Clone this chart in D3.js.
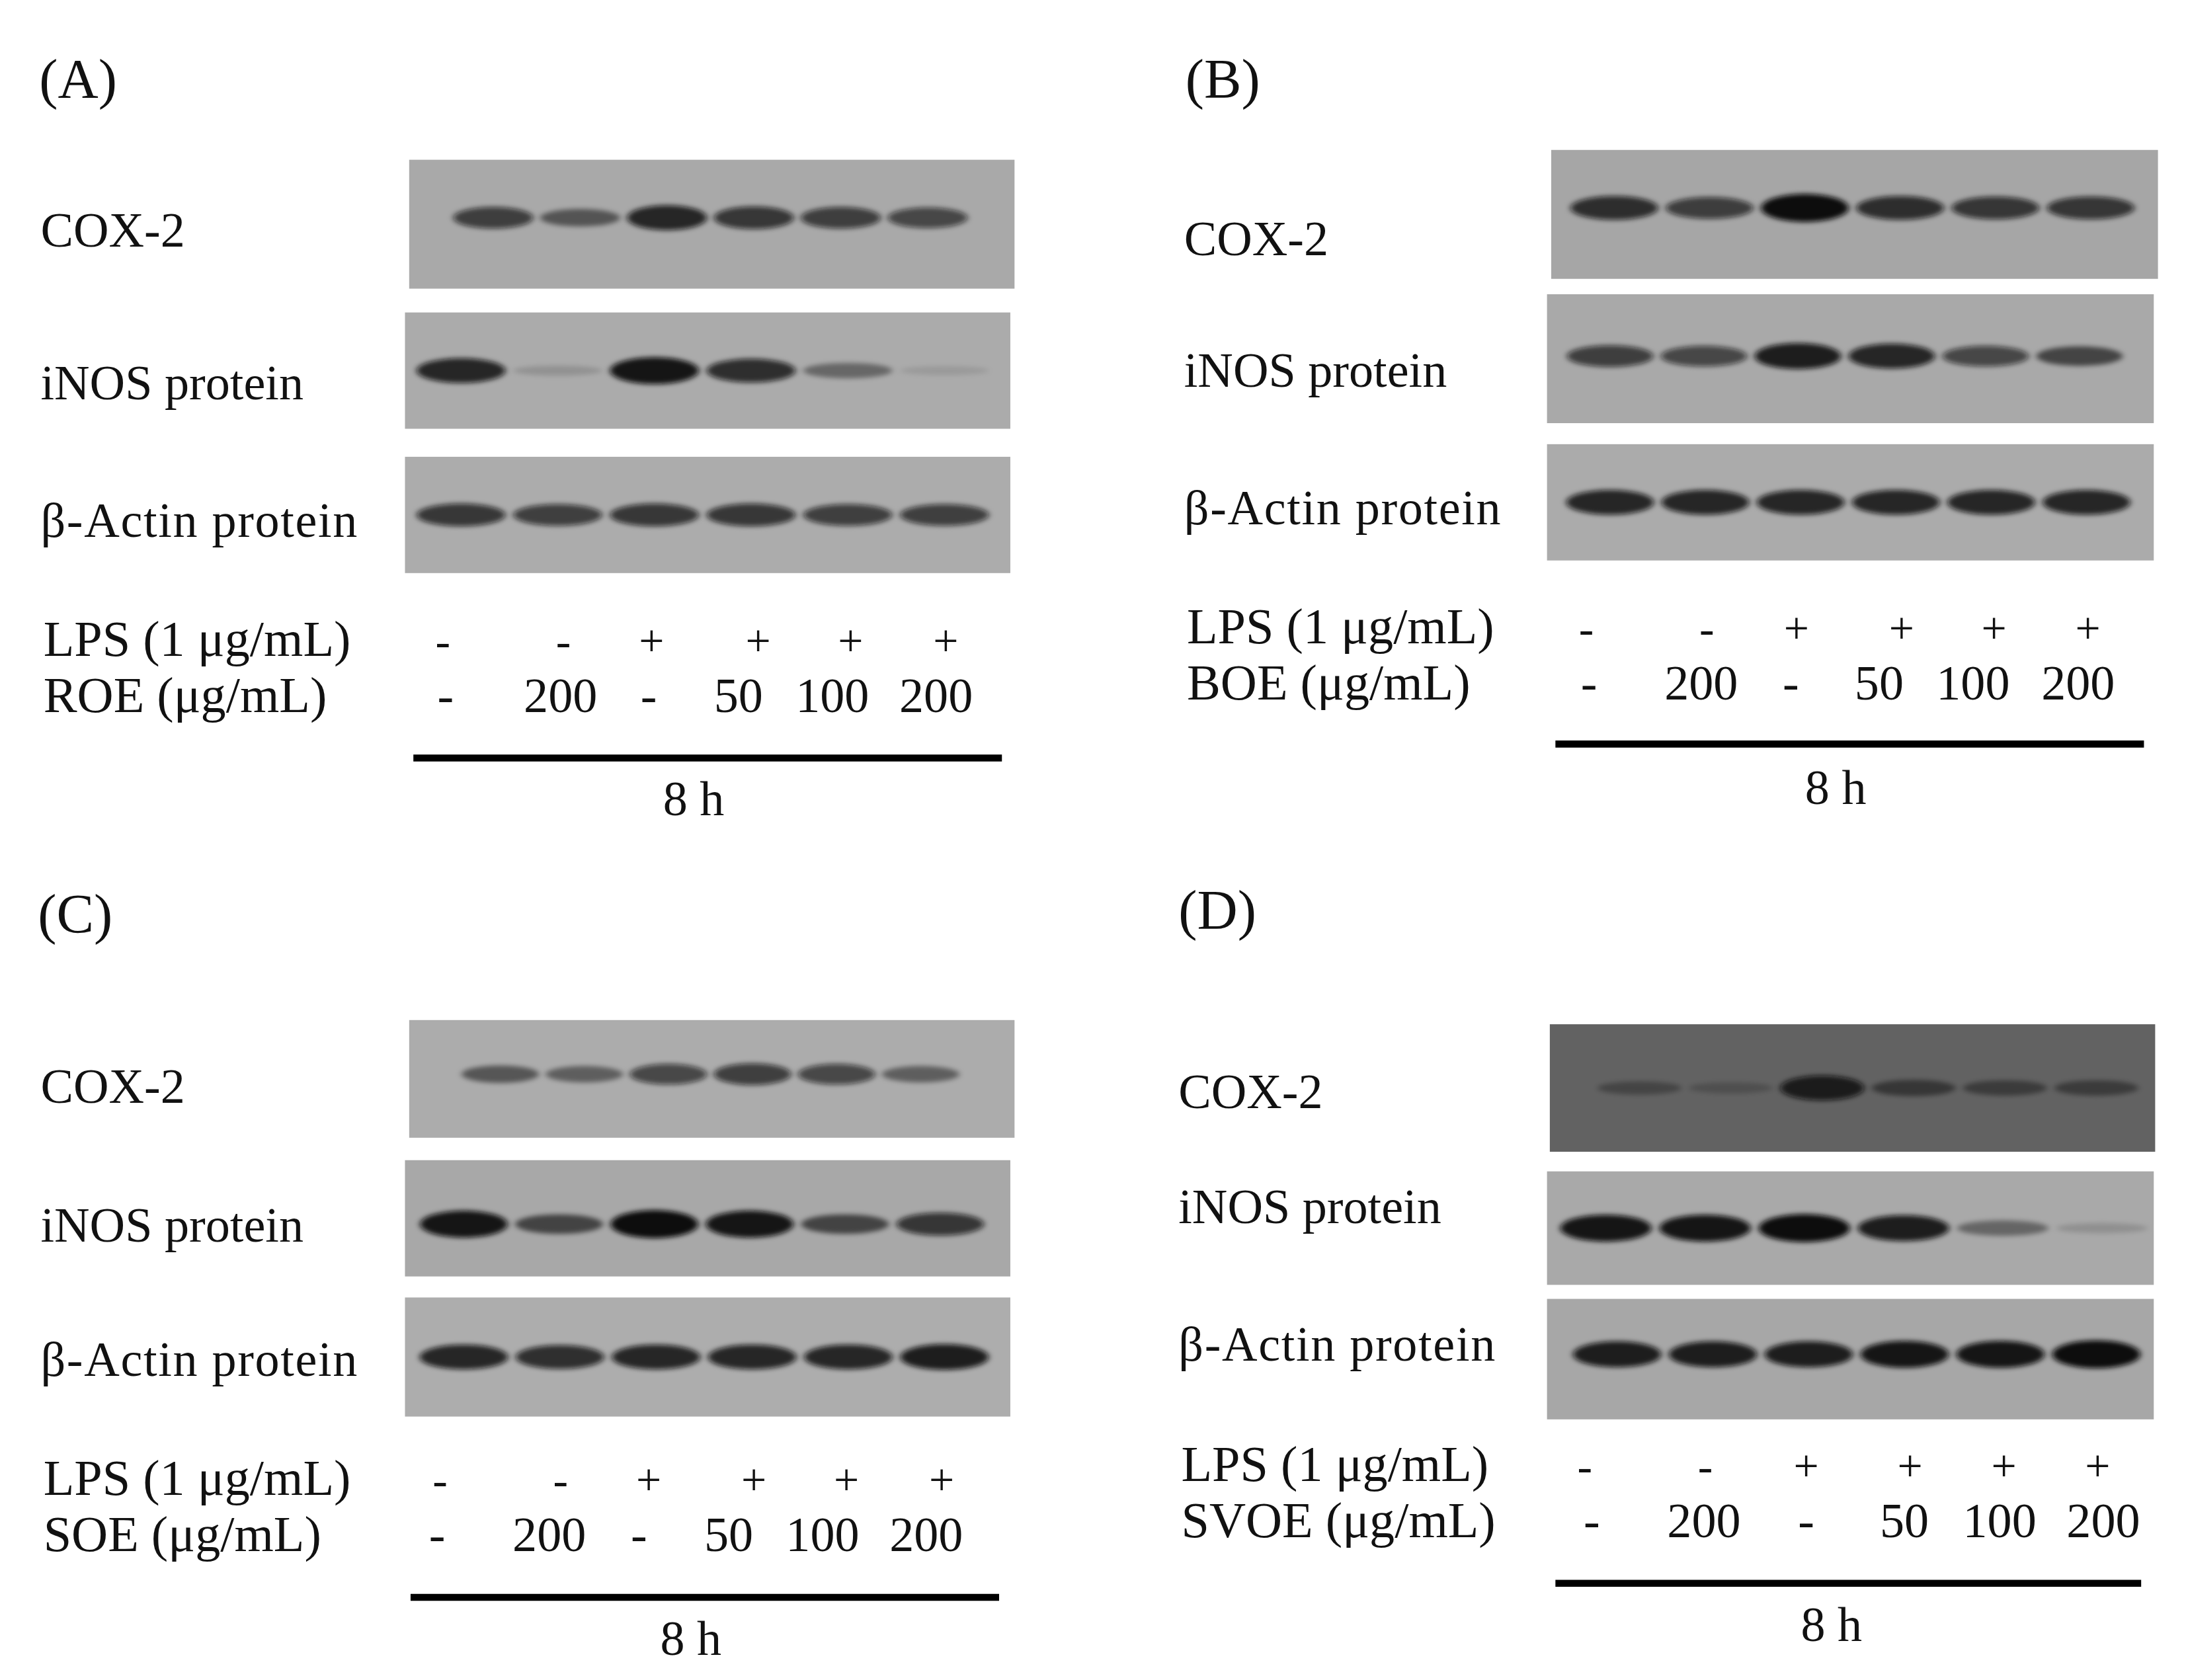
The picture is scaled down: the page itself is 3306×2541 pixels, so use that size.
<!DOCTYPE html>
<html lang="en">
<head>
<meta charset="UTF-8">
<title>Western blots COX-2 / iNOS / beta-actin</title>
<style>
  body { margin: 0; background: #fff; }
  svg text { font-family: 'Liberation Serif', 'DejaVu Serif', serif; fill: #111; }
</style>
</head>
<body>
<svg id="fig" width="3306" height="2541" viewBox="0 0 1560 1199"></svg>
<script src="https://d3js.org/d3.v7.min.js"></script>
<script>
  // lanes and treatment labels
  const lanes = [0, 1, 2, 3, 4, 5];
  const lpsSigns = ['-', '-', '+', '+', '+', '+'];
  const doseLabels = ['-', '200', '-', '50', '100', '200'];
  const blotNames = ['COX-2', 'iNOS protein', 'β-Actin protein'];

  // band darkness (0 = none, 1 = black)
  const coxA = [0.7, 0.5, 0.85, 0.75, 0.7, 0.65];
  const inosA = [0.85, 0.15, 0.95, 0.8, 0.4, 0.1];
  const actinA = [0.75, 0.7, 0.75, 0.75, 0.7, 0.7];
  const coxB = [0.8, 0.7, 1.0, 0.8, 0.75, 0.75];
  const inosB = [0.7, 0.65, 0.9, 0.85, 0.65, 0.6];
  const actinB = [0.85, 0.85, 0.85, 0.85, 0.85, 0.85];
  const coxC = [0.5, 0.45, 0.65, 0.7, 0.65, 0.45];
  const inosC = [0.95, 0.6, 1.0, 0.95, 0.6, 0.75];
  const actinC = [0.85, 0.8, 0.85, 0.85, 0.85, 0.9];
  const coxD = [0.3, 0.2, 0.85, 0.45, 0.4, 0.4];
  const inosD = [0.95, 0.95, 1.0, 0.9, 0.4, 0.15];
  const actinD = [0.9, 0.9, 0.9, 0.95, 0.95, 1.0];

  const panels = [
    { tag: '(A)', extract: 'ROE', tx: 28, ty: 70, data: [coxA, inosA, actinA],
      blots: [{x:292,y:114,w:432,h:92,bg:'#a9a9a9',band:0.45,lane:[60,370]},
              {x:289,y:223,w:432,h:83,bg:'#ababab',band:0.5,lane:[40,385]},
              {x:289,y:326,w:432,h:83,bg:'#acacac',band:0.5,lane:[40,385]}],
      labelY: [176, 285, 383], lpsY: 468, doseY: 508, lpsX: [316,402,465,541,607,675], doseX: [318,400,463,527,594,668],
      bar: [295, 715, 541], hY: 582, hX: 495, labX: 29 },
    { tag: '(B)', extract: 'BOE', tx: 846, ty: 70, data: [coxB, inosB, actinB],
      blots: [{x:1107,y:107,w:433,h:92,bg:'#a6a6a6',band:0.45,lane:[45,385]},
              {x:1104,y:210,w:433,h:92,bg:'#a9a9a9',band:0.48,lane:[45,380]},
              {x:1104,y:317,w:433,h:83,bg:'#ababab',band:0.5,lane:[45,385]}],
      labelY: [182, 276, 374], lpsY: 459, doseY: 499, lpsX: [1132,1218,1282,1357,1423,1490], doseX: [1134,1214,1278,1341,1408,1483],
      bar: [1110, 1530, 531], hY: 574, hX: 1310, labX: 845 },
    { tag: '(C)', extract: 'SOE', tx: 27, ty: 666, data: [coxC, inosC, actinC],
      blots: [{x:292,y:728,w:432,h:84,bg:'#acacac',band:0.46,lane:[65,365]},
              {x:289,y:828,w:432,h:83,bg:'#a8a8a8',band:0.55,lane:[42,382]},
              {x:289,y:926,w:432,h:85,bg:'#adadad',band:0.5,lane:[42,385]}],
      labelY: [787, 886, 982], lpsY: 1067, doseY: 1107, lpsX: [314,400,463,538,604,672], doseX: [312,392,456,520,587,661],
      bar: [293, 713, 1140], hY: 1181, hX: 493, labX: 29 },
    { tag: '(D)', extract: 'SVOE', tx: 841, ty: 663, data: [coxD, inosD, actinD],
      blots: [{x:1106,y:731,w:432,h:91,bg:'#626262',band:0.5,lane:[64,390]},
              {x:1104,y:836,w:433,h:81,bg:'#a9a9a9',band:0.5,lane:[42,396]},
              {x:1104,y:927,w:433,h:86,bg:'#a7a7a7',band:0.46,lane:[50,392]}],
      labelY: [791, 873, 971], lpsY: 1057, doseY: 1097, lpsX: [1131,1217,1289,1363,1430,1497], doseX: [1136,1216,1289,1359,1427,1501],
      bar: [1110, 1528, 1130], hY: 1171, hX: 1307, labX: 841 }
  ];

  const svg = d3.select('#fig');
  svg.append('rect').attr('width', 1560).attr('height', 1199).attr('fill', '#fff');

  const defs = svg.append('defs');
  defs.append('filter').attr('id', 'blur').attr('x', '-20%').attr('y', '-100%').attr('width', '140%').attr('height', '300%')
    .append('feGaussianBlur').attr('stdDeviation', '2.2 1.8');

  const shade = d3.scaleLinear().domain([0, 1]).range([0, 1]);
  const thick = d3.scaleLinear().domain([0, 1]).range([5, 20]);

  panels.forEach(p => {
    svg.append('text').attr('x', p.tx).attr('y', p.ty).attr('font-size', 40).text(p.tag);

    p.blots.forEach((b, bi) => {
      const g = svg.append('g').attr('transform', `translate(${b.x},${b.y})`);
      g.append('rect').attr('width', b.w).attr('height', b.h).attr('fill', b.bg);
      const x = d3.scalePoint().domain(lanes).range(b.lane);
      const laneW = (b.lane[1] - b.lane[0]) / 5 * 0.92;
      g.selectAll('ellipse').data(p.data[bi]).join('ellipse')
        .attr('cx', (d, i) => x(i))
        .attr('cy', b.h * b.band)
        .attr('rx', laneW / 2)
        .attr('ry', d => thick(d) / 2)
        .attr('fill', '#0a0a0a')
        .attr('fill-opacity', d => shade(d))
        .attr('filter', 'url(#blur)');

      svg.append('text').attr('x', p.labX).attr('y', p.labelY[bi]).attr('font-size', 35).attr('textLength', bi === 2 ? 226 : null)
        .text(blotNames[bi]);
    });

    svg.append('text').attr('x', p.labX + 2).attr('y', p.lpsY).attr('font-size', 36).text('LPS (1 μg/mL)');
    svg.append('text').attr('x', p.labX + 2).attr('y', p.doseY).attr('font-size', 36).text(`${p.extract} (μg/mL)`);

    svg.selectAll(null).data(lpsSigns).join('text')
      .attr('x', (d, i) => p.lpsX[i]).attr('y', p.lpsY).attr('text-anchor', 'middle').attr('font-size', 32).text(d => d);
    svg.selectAll(null).data(doseLabels).join('text')
      .attr('x', (d, i) => p.doseX[i]).attr('y', p.doseY).attr('text-anchor', 'middle').attr('font-size', 35).text(d => d);

    svg.append('line').attr('x1', p.bar[0]).attr('x2', p.bar[1]).attr('y1', p.bar[2]).attr('y2', p.bar[2])
      .attr('stroke', '#000').attr('stroke-width', 5);
    svg.append('text').attr('x', p.hX).attr('y', p.hY).attr('text-anchor', 'middle').attr('font-size', 35).text('8 h');
  });
</script>
</body>
</html>
